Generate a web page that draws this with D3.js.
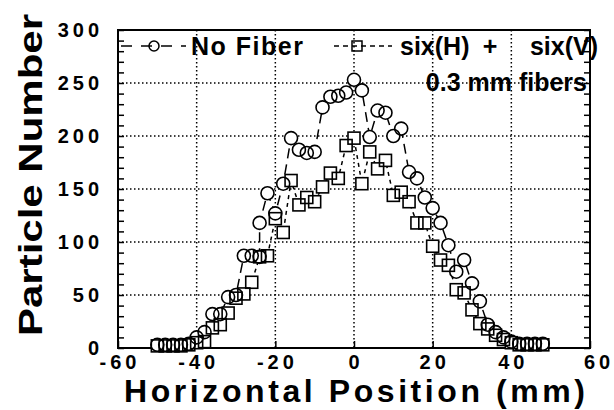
<!DOCTYPE html>
<html>
<head>
<meta charset="utf-8">
<script src="https://cdn.jsdelivr.net/npm/d3@7"></script>
<style>
  body { margin: 0; background: #fff; }
  svg { display: block; font-family: "Liberation Sans", Arial, sans-serif; font-weight: bold; }
</style>
</head>
<body>
<div id="root"></div>
<script>
// data (mm, counts)
const noFiberX = [-50, -48, -46, -44, -42, -40, -38, -36, -34, -32, -30, -28, -26, -24, -24, -22, -20, -18, -16, -14, -12, -10, -8, -6, -4, -2, 0, 2, 4, 6, 8, 10, 12, 14, 16, 18, 20, 22, 24, 26, 28, 30, 32, 34, 36, 38, 40, 42, 44, 46, 48];
const noFiberY = [3, 3, 3, 3, 4, 10, 15, 32, 32, 48, 50, 87, 87, 86, 118, 146, 127, 155, 198, 187, 184, 185, 227, 237, 238, 241, 253, 243, 199, 224, 222, 200, 207, 166, 160, 142, 132, 118, 97, 72, 83, 61, 44, 22, 15, 10, 6, 4, 4, 4, 4];

const sixX = [-50, -48, -46, -44, -42, -40, -38, -36, -34, -32, -30, -28, -26, -24, -22, -20, -18, -16, -14, -12, -10, -8, -6, -4, -2, 0, 2, 4, 6, 8, 10, 12, 14, 16, 18, 20, 22, 24, 26, 28, 30, 32, 34, 36, 38, 40, 42, 44, 46, 48];
const sixY = [2, 2, 2, 2, 3, 5, 6, 19, 22, 33, 47, 51, 62, 86, 87, 122, 109, 158, 135, 142, 138, 152, 165, 160, 191, 198, 155, 185, 169, 177, 144, 147, 138, 118, 118, 96, 83, 78, 55, 52, 36, 23, 18, 12, 8, 5, 3, 3, 3, 3];

const xTicks = [-60, -40, -20, 0, 20, 40, 60];
const yTicks = [0, 50, 100, 150, 200, 250, 300];
const yMinor = d3.range(0, 301, 10);

const width = 614, height = 410;
const plot = { left: 118, right: 590, top: 30, bottom: 348 };

const svg = d3.select("#root")
  .append("svg")
  .attr("width", width)
  .attr("height", height);

svg.append("rect").attr("width", width).attr("height", height).attr("fill", "#fff");

const x = d3.scaleLinear().domain([-60, 60]).range([plot.left, plot.right]);
const y = d3.scaleLinear().domain([0, 300]).range([plot.bottom, plot.top]);

// dotted grid
const grid = svg.append("g")
  .attr("stroke", "#000")
  .attr("stroke-width", 1.5)
  .attr("stroke-dasharray", "1.5,2.5");

grid.selectAll("line.v")
  .data(xTicks.slice(1, -1))
  .join("line")
  .attr("x1", d => x(d)).attr("x2", d => x(d))
  .attr("y1", plot.top).attr("y2", plot.bottom);

grid.selectAll("line.h")
  .data(yTicks.slice(1, -1))
  .join("line")
  .attr("x1", plot.left).attr("x2", plot.right)
  .attr("y1", d => y(d)).attr("y2", d => y(d));

// axes: ticks inward, labels drawn separately for the wide spacing
const axes = svg.append("g");

axes.append("g")
  .attr("transform", `translate(${plot.left},0)`)
  .call(d3.axisRight(y).tickValues(yMinor).tickSize(6).tickFormat(""));
axes.append("g")
  .attr("transform", `translate(${plot.right},0)`)
  .call(d3.axisLeft(y).tickValues(yMinor).tickSize(6).tickFormat(""));
axes.append("g")
  .attr("transform", `translate(0,${plot.bottom})`)
  .call(d3.axisTop(x).tickValues(xTicks).tickSize(7).tickFormat(""));

axes.selectAll(".domain").remove();
axes.selectAll(".tick line").attr("stroke", "#000").attr("stroke-width", 1.5);

svg.append("rect")
  .attr("x", plot.left).attr("y", plot.top)
  .attr("width", plot.right - plot.left)
  .attr("height", plot.bottom - plot.top)
  .attr("fill", "none")
  .attr("stroke", "#000")
  .attr("stroke-width", 2);

// tick labels: digits spread with a fixed gap, no trailing space
const fs = 20, gap = 4;
const digitW = 0.556 * fs, hyphenW = 0.333 * fs;
const fmt = d => (d < 0 ? "-" + Math.abs(d) : String(d));
const spread = s => {
  let w = 0;
  for (const c of s) w += c === "-" ? hyphenW : digitW;
  return w + (s.length - 1) * gap;
};

svg.append("g")
  .attr("font-size", fs)
  .attr("text-anchor", "end")
  .selectAll("text")
  .data(yTicks)
  .join("text")
  .attr("x", 99)
  .attr("y", d => y(d))
  .attr("dy", "0.36em")
  .attr("textLength", d => spread(fmt(d)))
  .attr("lengthAdjust", "spacing")
  .text(fmt);

svg.append("g")
  .attr("font-size", fs)
  .attr("text-anchor", "middle")
  .selectAll("text")
  .data(xTicks)
  .join("text")
  .attr("x", d => x(d) + (d === 60 ? 7 : 0))
  .attr("y", 369)
  .attr("textLength", d => spread(fmt(d)))
  .attr("lengthAdjust", "spacing")
  .text(fmt);

// axis titles
svg.append("text")
  .attr("x", 124)
  .attr("y", 402)
  .attr("font-size", 32)
  .attr("textLength", 461)
  .attr("lengthAdjust", "spacing")
  .text("Horizontal Position (mm)");

svg.append("text")
  .attr("transform", "translate(42,336) rotate(-90)")
  .attr("font-size", 34)
  .attr("textLength", 322)
  .attr("lengthAdjust", "spacingAndGlyphs")
  .text("Particle Number");

// series
const series = [
  { xs: noFiberX, ys: noFiberY, shape: "circle", dash: "10,6" },
  { xs: sixX, ys: sixY, shape: "square", dash: "4,4" }
];

const line = d3.line().x(d => x(d[0])).y(d => y(d[1]));
const r = 6.5;

series.forEach(s => {
  svg.append("path")
    .datum(s.xs.map((v, i) => [v, s.ys[i]]))
    .attr("d", line)
    .attr("fill", "none")
    .attr("stroke", "#000")
    .attr("stroke-width", 1.5)
    .attr("stroke-dasharray", s.dash);
});

function marker(g, shape, pts, fill, stroke) {
  if (shape === "circle") {
    g.selectAll("circle").data(pts).join("circle")
      .attr("cx", d => x(d[0])).attr("cy", d => y(d[1])).attr("r", r)
      .attr("fill", fill).attr("stroke", stroke).attr("stroke-width", 1.6);
  } else {
    const h = r - 0.5;
    g.selectAll("rect").data(pts).join("rect")
      .attr("x", d => x(d[0]) - h).attr("y", d => y(d[1]) - h)
      .attr("width", 2 * h).attr("height", 2 * h)
      .attr("fill", fill).attr("stroke", stroke).attr("stroke-width", 1.6);
  }
}

// white fills first so the joining lines stop at each marker, outlines on top
series.forEach(s => marker(svg.append("g"), s.shape, s.xs.map((v, i) => [v, s.ys[i]]), "#fff", "none"));
series.forEach(s => marker(svg.append("g"), s.shape, s.xs.map((v, i) => [v, s.ys[i]]), "none", "#000"));

// legend
const lg = svg.append("g").attr("font-size", 25);
lg.append("line").attr("x1", 121).attr("x2", 186).attr("y1", 46).attr("y2", 46)
  .attr("stroke", "#000").attr("stroke-width", 1.5).attr("stroke-dasharray", "11,9");
lg.append("circle").attr("cx", 154).attr("cy", 46).attr("r", 5)
  .attr("fill", "none").attr("stroke", "#000").attr("stroke-width", 1.5);
lg.append("text").attr("x", 191).attr("y", 55).attr("textLength", 112).attr("lengthAdjust", "spacing").text("No Fiber");

lg.append("line").attr("x1", 334).attr("x2", 392).attr("y1", 46).attr("y2", 46)
  .attr("stroke", "#000").attr("stroke-width", 1.5).attr("stroke-dasharray", "5,4");
lg.append("rect").attr("x", 352).attr("y", 41).attr("width", 10).attr("height", 10)
  .attr("fill", "none").attr("stroke", "#000").attr("stroke-width", 1.5);
lg.append("text").attr("x", 400).attr("y", 55).text("six(H)");
lg.append("text").attr("x", 490).attr("y", 55).attr("text-anchor", "middle").text("+");
lg.append("text").attr("x", 598).attr("y", 55).attr("text-anchor", "end").text("six(V)");
lg.append("text").attr("x", 587).attr("y", 91).attr("text-anchor", "end").text("0.3 mm fibers");
</script>
</body>
</html>
